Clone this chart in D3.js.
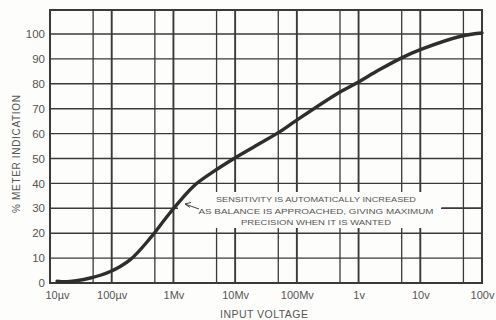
<!DOCTYPE html>
<html>
<head>
<meta charset="utf-8">
<script src="https://cdn.jsdelivr.net/npm/d3@7"></script>
<style>
  html, body { margin: 0; padding: 0; background: #fdfdfc; }
  svg { display: block; }
  text { font-family: "Liberation Sans", Arial, sans-serif; fill: #555; }
</style>
</head>
<body>
<svg id="chart" width="496" height="320"></svg>
<script>
// ---- data ----
const xTickValues = [1e-5, 1e-4, 1e-3, 1e-2, 1e-1, 1, 10, 100];
const xTickLabels = ["10µv", "100µv", "1Mv", "10Mv", "100Mv", "1v", "10v", "100v"];
const xMinorValues = [5e-5, 5e-4, 5e-3, 5e-2, 5e-1, 5, 50];
const yTickValues = [0, 10, 20, 30, 40, 50, 60, 70, 80, 90, 100];
const curveVolts = [1.3e-5, 1.9e-5, 4.5e-5, 9.3e-5, 2e-4, 4.2e-4, 8.7e-4, 2.1e-3, 4.5e-3, 9.3e-3, 2.5e-2, 5.4e-2, 9.3e-2, 0.47, 0.93, 2.2, 4.9, 10, 49, 100];
const curvePct   = [0.7,    0.5,    2,      4.5,    9.4,  18,     28,     38.8,   44.8,   49.8,   56,     60.9,   64.9,   76.3, 80.3, 85.7, 90.3, 93.7, 99.3, 100.4];
const noteLines = ["SENSITIVITY IS AUTOMATICALLY INCREASED",
                   "AS BALANCE IS APPROACHED, GIVING MAXIMUM",
                   "PRECISION WHEN IT IS WANTED"];
const xTitle = "INPUT VOLTAGE";
const yTitle = "% METER INDICATION";

// ---- layout ----
const svg = d3.select("#chart");
const pL = 50, pR = 482, pT = 10, pB = 283;
const x = d3.scaleLog().domain([1e-5, 100]).range([pL, pR]);
const y = d3.scaleLinear().domain([0, 100]).range([pB, 34]);
const lineCol = "#3a3a3a";

const grid = svg.append("g");
grid.selectAll(".h").data(yTickValues).join("line")
  .attr("x1", pL).attr("x2", pR)
  .attr("y1", d => y(d)).attr("y2", d => y(d))
  .attr("stroke", lineCol).attr("stroke-width", 1.4);
grid.selectAll(".vm").data(xMinorValues).join("line")
  .attr("x1", d => x(d)).attr("x2", d => x(d))
  .attr("y1", pT).attr("y2", pB)
  .attr("stroke", lineCol).attr("stroke-width", 1.3);
grid.selectAll(".vd").data(xTickValues).join("line")
  .attr("x1", d => x(d)).attr("x2", d => x(d))
  .attr("y1", pT).attr("y2", pB)
  .attr("stroke", lineCol).attr("stroke-width", 1.9);
grid.append("rect").attr("x", pL).attr("y", pT)
  .attr("width", pR - pL).attr("height", pB - pT)
  .attr("fill", "none").attr("stroke", lineCol).attr("stroke-width", 2);

// white area behind annotation
svg.append("rect").attr("x", 178).attr("y", 192)
  .attr("width", 264).attr("height", 36).attr("fill", "#fdfdfc");

// curve
const line = d3.line().x((d, i) => x(curveVolts[i])).y(d => y(d)).curve(d3.curveCatmullRom.alpha(0.5));
svg.append("path").datum(curvePct)
  .attr("d", line).attr("fill", "none")
  .attr("stroke", "#2e2e2e").attr("stroke-width", 3.4)
  .attr("stroke-linecap", "round").attr("stroke-linejoin", "round");

// y axis labels
const yAxis = d3.axisLeft(y).tickValues(yTickValues).tickSize(0).tickPadding(5);
const ya = svg.append("g").attr("transform", `translate(${pL},0)`).call(yAxis);
ya.select(".domain").remove();
ya.selectAll("text").style("font-size", "11.5px").attr("fill", "#555")
  .style("font-family", '"Liberation Sans", Arial, sans-serif');

// x axis labels
const xAxis = d3.axisBottom(x).tickValues(xTickValues).tickSize(0).tickPadding(8)
  .tickFormat((d, i) => xTickLabels[i]);
const xa = svg.append("g").attr("transform", `translate(0,${pB})`).call(xAxis);
xa.select(".domain").remove();
xa.selectAll("text").style("font-size", "11px").attr("fill", "#555")
  .style("font-family", '"Liberation Sans", Arial, sans-serif')
  .attr("dx", (d, i) => i === 0 ? 7 : 0);

// axis titles
svg.append("text").attr("x", 264).attr("y", 318).attr("text-anchor", "middle")
  .style("font-size", "10.5px").attr("textLength", 88).text(xTitle);
svg.append("text").attr("transform", "translate(20,154) rotate(-90)")
  .attr("text-anchor", "middle").style("font-size", "10px")
  .attr("textLength", 118).text(yTitle);

// annotation
const noteWidths = [200, 235, 150];
const noteY = [202, 213.5, 225];
svg.selectAll(".note").data(noteLines).join("text")
  .attr("x", 316).attr("y", (d, i) => noteY[i]).attr("text-anchor", "middle")
  .style("font-size", "8px").attr("textLength", (d, i) => noteWidths[i])
  .attr("lengthAdjust", "spacingAndGlyphs").text(d => d);
svg.append("path").attr("d", "M199,209 L185,204 M185,204 L191,202.5 M185,204 L190,207.5")
  .attr("stroke", "#444").attr("stroke-width", 1).attr("fill", "none");
svg.append("line").attr("x1", 441).attr("x2", pR).attr("y1", y(30)).attr("y2", y(30))
  .attr("stroke", lineCol).attr("stroke-width", 1.4);
</script>
</body>
</html>
